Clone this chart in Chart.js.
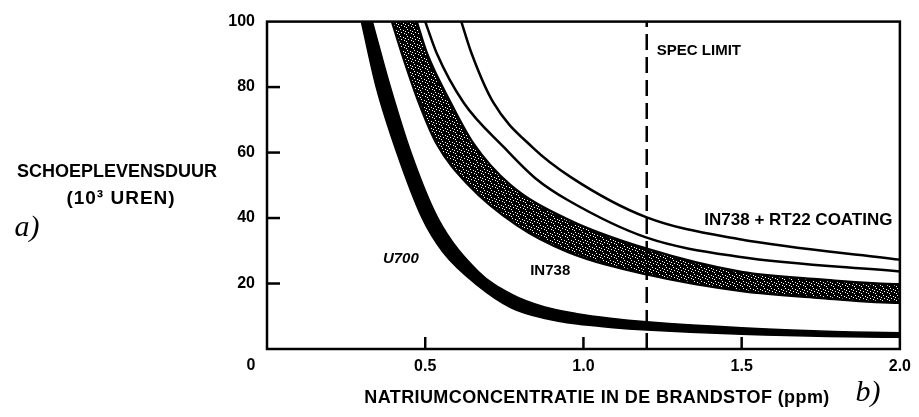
<!DOCTYPE html>
<html><head><meta charset="utf-8">
<script src="https://cdn.jsdelivr.net/npm/chart.js@4.4.1/dist/chart.umd.min.js"></script>
<style>html,body{margin:0;padding:0;background:#fff;}#wrap{width:919px;height:417px;}</style>
</head><body><div id="wrap"><canvas id="c" width="919" height="417"></canvas></div>
<script>
// ---- data ----
const xTicks = [0, 0.5, 1.0, 1.5, 2.0];
const yTicks = [20, 40, 60, 80, 100];
const specLimit = 1.2;

// U700 band: inner (lower-left) edge and outer (upper-right) edge
const u700InnerX = [0.298, 0.345, 0.41, 0.49, 0.555, 0.668, 0.771, 0.878, 0.98, 1.085, 1.2, 1.5, 2.0];
const u700InnerY = [100, 80, 60, 40, 29.7, 19.2, 12.6, 9.3, 7.6, 6.6, 5.8, 4.5, 3.6];
const u700OuterX = [0.333, 0.39, 0.455, 0.54, 0.668, 0.771, 0.878, 0.98, 1.085, 1.2, 1.5, 2.0];
const u700OuterY = [100, 80, 60, 40, 23.7, 16.8, 12.8, 10.8, 9.4, 8.3, 6.5, 5.0];

// IN738 band (stippled): lower edge and upper edge
const in738LowerX = [0.395, 0.426, 0.48, 0.536, 0.636, 0.79, 0.95, 1.2, 1.5, 1.75, 2.0];
const in738LowerY = [100, 90.4, 75.3, 62.8, 50.2, 37.8, 29.7, 22.8, 17.7, 15.6, 14.1];
const in738UpperX = [0.473, 0.505, 0.58, 0.652, 0.768, 0.95, 1.2, 1.5, 1.75, 2.0];
const in738UpperY = [100, 90.4, 75.3, 62.8, 50.2, 39.6, 30.6, 23.5, 21.2, 19.8];

// IN738 + RT22 coating (two lines)
const rtLowerX = [0.5, 0.536, 0.621, 0.75, 0.85, 0.95, 1.2, 1.49, 2.0];
const rtLowerY = [100, 90.4, 75.3, 61.5, 52, 45.5, 34, 28.2, 23.7];
const rtUpperX = [0.614, 0.646, 0.715, 0.84, 0.96, 1.2, 1.49, 2.0];
const rtUpperY = [100, 90.4, 75.3, 61.5, 52.5, 40.2, 33.6, 27.3];

// ---- helpers ----
const pts = (xs, ys) => xs.map((x, i) => ({x, y: ys[i]}));
const band = (ax, ay, bx, by) => pts(ax, ay).concat(pts(bx, by).reverse());

// stipple pattern for the IN738 band
const pc = document.createElement('canvas'); pc.width = 7; pc.height = 7;
const pctx = pc.getContext('2d');
pctx.fillStyle = '#000'; pctx.fillRect(0, 0, 7, 7);
pctx.fillStyle = '#fff';
[[1,1],[4,2],[2,4],[5,5],[0,6],[6,3]].forEach(([a,b]) => pctx.fillRect(a, b, 1, 1));
const stipple = pctx.createPattern(pc, 'repeat');

const FONT = 'Liberation Sans';
const decor = {
  id: 'decor',
  afterDraw(chart) {
    const {ctx, chartArea: a, scales: {x, y}} = chart;
    ctx.save();
    ctx.strokeStyle = '#000';
    ctx.lineWidth = 2.5;
    ctx.strokeRect(a.left, a.top, a.right - a.left, a.bottom - a.top);
    yTicks.filter(v => v < 100).forEach(v => {
      const py = y.getPixelForValue(v);
      ctx.beginPath(); ctx.moveTo(a.left, py); ctx.lineTo(a.left + 13, py); ctx.stroke();
    });
    xTicks.filter(v => v > 0 && v < 2).forEach(v => {
      const px = x.getPixelForValue(v);
      ctx.beginPath(); ctx.moveTo(px, a.bottom); ctx.lineTo(px, a.bottom - 12); ctx.stroke();
    });
    ctx.fillStyle = '#000';
    ctx.textBaseline = 'middle';
    ctx.textAlign = 'left';
    ctx.font = `bold 15px "${FONT}"`;
    ctx.fillText('SPEC LIMIT', x.getPixelForValue(1.232), y.getPixelForValue(91));
    ctx.font = `bold 17px "${FONT}"`;
    ctx.fillText('IN738 + RT22 COATING', x.getPixelForValue(1.382), y.getPixelForValue(39.4));
    ctx.textAlign = 'center';
    ctx.font = `bold italic 15px "${FONT}"`;
    ctx.fillText('U700', x.getPixelForValue(0.423), y.getPixelForValue(27.6));
    ctx.font = `bold 15px "${FONT}"`;
    ctx.fillText('IN738', x.getPixelForValue(0.895), y.getPixelForValue(24));
    ctx.font = `bold 16px "${FONT}"`;
    ctx.fillText('0', a.left - 16, 366);
    ctx.font = `bold 18px "${FONT}"`;
    ctx.letterSpacing = '0.4px';
    ctx.fillText('NATRIUMCONCENTRATIE IN DE BRANDSTOF (ppm)', 597, 398);
    ctx.letterSpacing = '0px';
    ctx.fillText('SCHOEPLEVENSDUUR', 117, 172);
    ctx.font = `bold 19px "${FONT}"`;
    ctx.letterSpacing = '1px';
    ctx.fillText('(10\u00B3 UREN)', 121, 199);
    ctx.letterSpacing = '0px';
    ctx.font = `italic 30px "Liberation Serif"`;
    ctx.fillText('a)', 27, 228);
    ctx.fillText('b)', 868, 393);
    ctx.restore();
  }
};

const curve = {pointRadius: 0, cubicInterpolationMode: 'monotone', borderColor: '#000'};
new Chart(document.getElementById('c'), {
  type: 'line',
  data: {
    datasets: [
      {label: 'SPEC LIMIT', data: pts([specLimit, specLimit], [0, 100]), borderColor: '#000', borderWidth: 2.5, borderDash: [16, 7], pointRadius: 0, fill: false},
      {...curve, label: 'IN738 + RT22 (upper)', data: pts(rtUpperX, rtUpperY), borderWidth: 2.5, fill: false},
      {...curve, label: 'IN738 + RT22 (lower)', data: pts(rtLowerX, rtLowerY), borderWidth: 2.5, fill: false},
      {...curve, label: 'IN738', data: band(in738UpperX, in738UpperY, in738LowerX, in738LowerY), borderWidth: 2.5, backgroundColor: stipple, fill: 'shape'},
      {...curve, label: 'U700', data: band(u700OuterX, u700OuterY, u700InnerX, u700InnerY), borderWidth: 1.5, backgroundColor: '#000', fill: 'shape'}
    ]
  },
  options: {
    responsive: false,
    animation: false,
    devicePixelRatio: 1,
    layout: {padding: {left: 0, right: 14, top: 16, bottom: 0}},
    plugins: {legend: {display: false}, tooltip: {enabled: false}},
    scales: {
      x: {
        type: 'linear', min: 0, max: 2,
        border: {display: false},
        grid: {display: false, drawTicks: false},
        afterBuildTicks: s => { s.ticks = xTicks.map(v => ({value: v})); },
        ticks: {padding: 8, color: '#000', autoSkip: false, maxRotation: 0,
          font: {family: FONT, weight: 'bold', size: 16},
          callback: v => v === 0 ? '' : Number(v).toFixed(1)},
        title: {display: false},
        afterFit: s => { s.height = 68; }
      },
      y: {
        type: 'linear', min: 0, max: 100,
        border: {display: false},
        grid: {display: false, drawTicks: false},
        afterBuildTicks: s => { s.ticks = yTicks.map(v => ({value: v})); },
        ticks: {padding: 12, color: '#000', font: {family: FONT, weight: 'bold', size: 16}},
        afterFit: s => { s.width = 267; }
      }
    }
  },
  plugins: [decor]
});
</script></body></html>
